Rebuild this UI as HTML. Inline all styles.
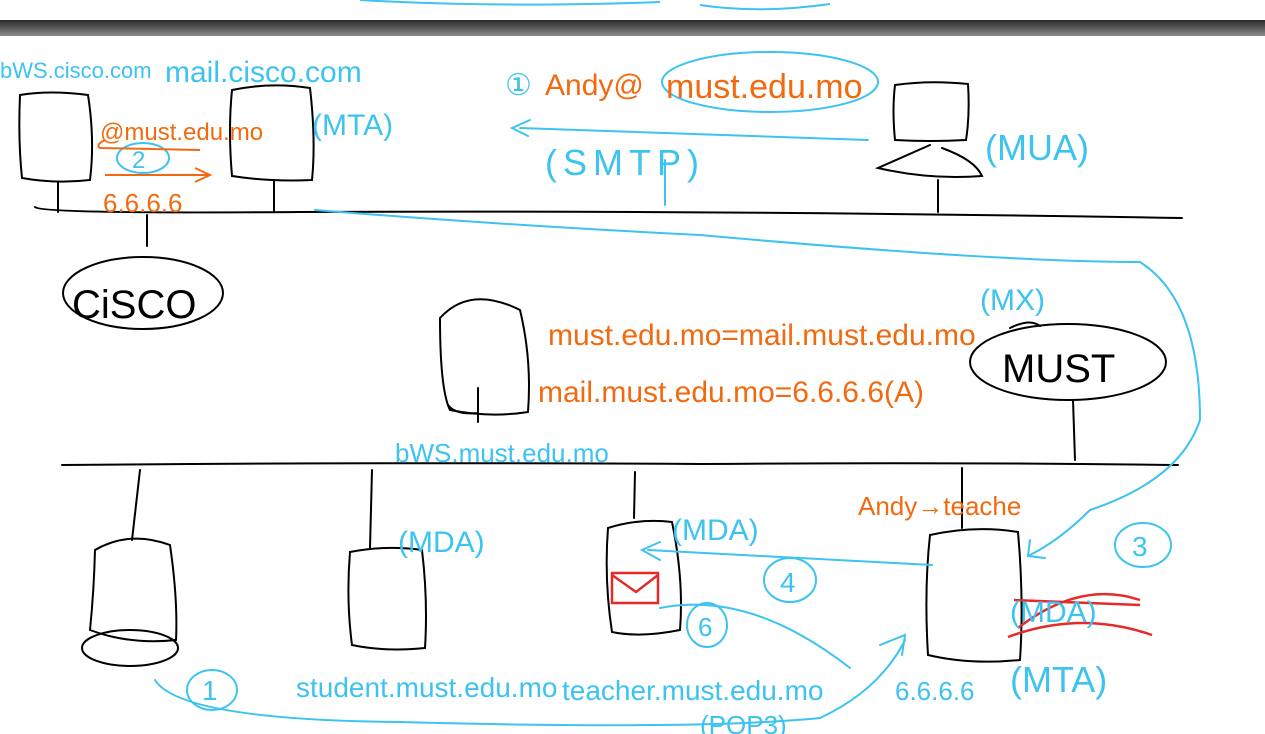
<!DOCTYPE html>
<html><head><meta charset="utf-8"><style>
html,body{margin:0;padding:0;background:#fff;width:1265px;height:734px;overflow:hidden}
svg{display:block}
text{font-family:"Liberation Sans",sans-serif}
</style></head><body>
<svg width="1265" height="734" viewBox="0 0 1265 734" xmlns="http://www.w3.org/2000/svg">
<defs><linearGradient id="g" x1="0" y1="0" x2="0" y2="1"><stop offset="0" stop-color="#2a2a2a"/><stop offset="1" stop-color="#8a8a8a"/></linearGradient></defs>
<rect x="0" y="0" width="1265" height="20" fill="#fff"/>
<path d="M360 0 Q500 8 660 2 M700 5 Q760 14 830 4" stroke="#3cc3f0" stroke-width="2" fill="none"/>
<rect x="0" y="20" width="1265" height="16" fill="url(#g)"/>
<g fill="none" stroke="#000" stroke-width="2" stroke-linecap="round">
<path d="M35 207 Q40 214 300 212 Q700 210 1182 218"/>
<path d="M20 95 Q50 90 88 95 Q95 140 90 180 Q55 184 22 178 Q18 140 20 95Z"/>
<path d="M58 182 L58 212"/>
<path d="M232 90 Q270 82 310 88 Q316 140 312 180 Q270 182 232 176 Q228 130 232 90Z"/>
<path d="M274 180 L274 212"/>
<path d="M895 85 Q930 80 968 84 Q970 115 966 140 Q930 142 895 140 Q892 110 895 85Z"/>
<path d="M930 145 L878 168 Q930 180 982 176 Q975 160 942 148"/>
<path d="M938 180 L938 212"/>
<path d="M147 215 L147 246"/>
<ellipse cx="143" cy="293" rx="80" ry="36"/>
<path d="M440 318 Q470 285 520 310 Q532 360 528 412 Q490 418 450 410 Q440 390 440 318Z"/>
<path d="M478 388 L478 422 M448 405 Q455 415 478 413"/>
<ellipse cx="1068" cy="362" rx="98" ry="38"/>
<path d="M1010 328 Q1030 318 1040 326"/>
<path d="M1073 400 L1075 460"/>
<path d="M62 465 Q400 462 700 464 Q950 462 1178 465"/>
<path d="M140 470 L132 540"/>
<path d="M95 550 Q130 530 170 545 Q178 600 176 640 Q130 645 90 630 Q94 590 95 550Z"/>
<ellipse cx="130" cy="648" rx="48" ry="18"/>
<path d="M372 470 L370 548"/>
<path d="M350 552 Q385 545 422 550 Q428 600 425 648 Q385 652 352 645 Q346 600 350 552Z"/>
<path d="M635 472 L634 518"/>
<path d="M608 528 Q640 518 672 522 Q684 580 680 630 Q640 638 612 632 Q604 580 608 528Z"/>
<path d="M962 468 L962 528"/>
<path d="M930 535 Q975 525 1018 532 Q1024 600 1020 660 Q970 665 928 655 Q924 590 930 535Z"/>
</g>
<rect x="612" y="573" width="46" height="30" fill="none" stroke="#e52a2a" stroke-width="2.5"/>
<path d="M612 575 L636 592 L658 575" fill="none" stroke="#e52a2a" stroke-width="2.5"/>
<path d="M1014 600 L1140 605 M1008 637 Q1080 610 1152 635 M1018 628 Q1080 580 1140 600" stroke="#e52a2a" stroke-width="2.5" fill="none"/>
<g fill="none" stroke="#3cc3f0" stroke-width="2" stroke-linecap="round">
<path d="M868 140 L520 128 M530 120 L512 128 L528 136"/>
<ellipse cx="770" cy="82" rx="108" ry="30"/>
<path d="M665 160 L665 205"/>
<path d="M315 210 Q500 225 700 235 Q1000 262 1140 262 Q1200 300 1200 420 Q1180 480 1090 510 Q1060 540 1030 555 M1030 540 L1028 556 L1045 558"/>
<path d="M932 565 L648 550 M660 542 L642 550 L660 560"/>
<path d="M660 608 Q750 590 850 668"/>
<path d="M155 680 Q180 720 400 722 Q700 730 820 718 Q880 690 905 640 M880 645 L905 635 L902 655"/>
<ellipse cx="143" cy="158" rx="26" ry="15"/>
<ellipse cx="212" cy="690" rx="25" ry="20"/>
<ellipse cx="707" cy="625" rx="20" ry="22"/>
<ellipse cx="790" cy="580" rx="26" ry="22"/>
<ellipse cx="1143" cy="545" rx="28" ry="22"/>
</g>
<g fill="#3cc3f0" font-size="30">
<text x="0" y="78" font-size="22">bWS.cisco.com</text>
<text x="165" y="82">mail.cisco.com</text>
<text x="312" y="135">(MTA)</text>
<text x="505" y="95" font-size="30">①</text>
<text x="545" y="175" font-size="36" letter-spacing="6">(SMTP)</text>
<text x="985" y="160" font-size="36">(MUA)</text>
<text x="980" y="310">(MX)</text>
<text x="395" y="462" font-size="26">bWS.must.edu.mo</text>
<text x="398" y="552">(MDA)</text>
<text x="672" y="540">(MDA)</text>
<text x="296" y="697" font-size="28">student.must.edu.mo</text>
<text x="562" y="700" font-size="28">teacher.must.edu.mo</text>
<text x="700" y="734" font-size="26">(POP3)</text>
<text x="1010" y="622" font-size="30">(MDA)</text>
<text x="1010" y="692" font-size="36">(MTA)</text>
<text x="895" y="700" font-size="26">6.6.6.6</text>
<text x="132" y="168" font-size="24">2</text>
<text x="202" y="700" font-size="28">1</text>
<text x="698" y="636" font-size="26">6</text>
<text x="780" y="592" font-size="28">4</text>
<text x="1132" y="556" font-size="28">3</text>
</g>
<g fill="#f26a10" font-size="30">
<text x="100" y="140" font-size="24">@must.edu.mo</text>
<text x="103" y="212" font-size="26">6.6.6.6</text>
<text x="545" y="95">Andy@</text>
<text x="666" y="98" font-size="34">must.edu.mo</text>
<text x="548" y="345">must.edu.mo=mail.must.edu.mo</text>
<text x="538" y="402">mail.must.edu.mo=6.6.6.6(A)</text>
<text x="858" y="515" font-size="26">Andy→teache</text>
</g>
<path d="M105 140 Q95 145 100 148 L200 150 M105 175 L210 175 M195 168 L210 175 L195 182" stroke="#f26a10" stroke-width="2" fill="none"/>
<g fill="#000" font-size="40"><text x="72" y="318">CiSCO</text><text x="1002" y="382">MUST</text></g>
</svg>
</body></html>
